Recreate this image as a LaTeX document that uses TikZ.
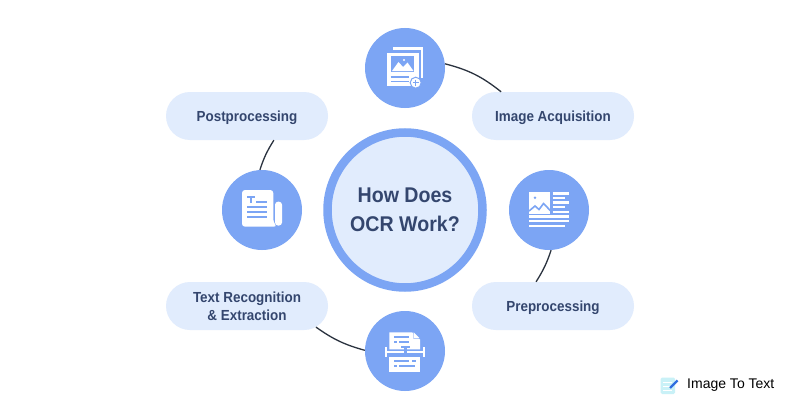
\documentclass[tikz,border=0pt]{standalone}
\usepackage{fontspec}
\setmainfont{Liberation Sans}[FakeStretch=0.92]
\newfontfamily\brandfont{Liberation Sans}
\usetikzlibrary{shapes.misc}

\definecolor{ringblue}{HTML}{7CA5F4}
\definecolor{paleblue}{HTML}{E1ECFD}
\definecolor{inkblue}{HTML}{34466E}
\definecolor{linkgray}{HTML}{2B3340}
\definecolor{logocyan}{HTML}{C9F1F7}
\definecolor{logoblue}{HTML}{2F6FE0}

\tikzset{
    iconcirc/.style={circle, fill=ringblue, minimum size=80, inner sep=0},
    stagepill/.style={rounded rectangle, fill=paleblue, text=inkblue, minimum width=162, minimum height=48,
        inner sep=0, align=center, text depth=0, font=\fontsize{14.6}{18}\selectfont\bfseries},
    link/.style={draw=linkgray, line width=1.3},
    bluemark/.style={draw=ringblue, line width=2.2},
    whitemark/.style={draw=white, line width=2.5}
}

\begin{document}
\begin{tikzpicture}[x=1pt, y=-1pt]
    \useasboundingbox[fill=white] (0, 0) rectangle (800, 420);

    \node[circle, draw=ringblue, line width=8.5, fill=paleblue, minimum size=155, inner sep=0, text=inkblue, align=center,
        font=\fontsize{21.3}{28.5}\selectfont\bfseries] (hub) at (405, 210) {How Does\\OCR Work?};

    \node[iconcirc] (iconacq) at (405, 68) {};
    \node[iconcirc] (iconpre) at (549, 210) {};
    \node[iconcirc] (iconpost) at (262, 210) {};
    \node[iconcirc] (iconrec) at (405, 351) {};

    \node[stagepill] (acq) at (553, 116) {Image Acquisition};
    \node[stagepill] (pre) at (553, 306) {Preprocessing};
    \node[stagepill] (post) at (247, 116) {Postprocessing};
    \node[stagepill] (rec) at (247, 306) {Text Recognition\\\& Extraction};

    \draw[link] (iconacq.6) to[bend left=12] (acq.155);
    \draw[link] (iconpre.-87) to[bend left=7] (pre.125);
    \draw[link] (iconpost.93) to[bend left=7] (post.-42.7);
    \draw[link] (iconrec.179) to[bend left=10] (rec.-17.5);

    % image acquisition icon
    \fill[white] (392.5, 47.5) rectangle (422.5, 78);
    \fill[ringblue] (390.5, 50) rectangle (420.5, 87);
    \fill[white] (387, 53) rectangle (418.5, 86);
    \fill[ringblue] (390.7, 56) rectangle (414.3, 72.3);
    \fill[white] (392, 71) -- (398.5, 62) -- (403, 67) -- (407.5, 62.5) -- (413.5, 71) -- cycle;
    \fill[white] (404, 60) circle (1.1);
    \draw[ringblue, line width=1.4] (390.7, 77) -- (409, 77) (390.7, 81.5) -- (409, 81.5);
    \fill[white, draw=ringblue, line width=1] (415.7, 82.7) circle (5.5);
    \draw[ringblue, line width=1.2] (412.7, 82.7) -- (418.7, 82.7) (415.7, 79.7) -- (415.7, 85.7);

    % preprocessing icon
    \fill[white] (529, 192) rectangle (550.3, 214);
    \fill[ringblue] (535, 197.7) circle (1.4);
    \draw[ringblue, line width=1.6] (529, 211) -- (535, 206) -- (539, 209.5) -- (543.5, 203.5) -- (550.3, 210.5);
    \draw[whitemark] (552.7, 193.3) -- (569, 193.3) (552.7, 197.9) -- (565, 197.9) (552.7, 202.4) -- (569, 202.4)
        (552.7, 207) -- (565, 207) (552.7, 212) -- (569, 212) (529, 216.7) -- (569, 216.7) (529, 221.2) -- (569, 221.2)
        (529, 226) -- (565, 226);

    % postprocessing icon
    \fill[white, rounded corners=3] (242, 190) -- (273.3, 190) -- (273.3, 222) -- (277, 226.7) -- (242, 226.7) -- cycle;
    \fill[white, rounded corners=3] (275, 201.7) rectangle (282, 225.5);
    \draw[bluemark] (247.3, 197) -- (255, 197) (251, 197) -- (251, 203);
    \draw[bluemark] (256, 202) -- (267.3, 202) (247.3, 206.7) -- (267.3, 206.7) (247.3, 212) -- (267.3, 212)
        (247.3, 217.3) -- (267.3, 217.3);

    % text recognition icon
    \fill[white] (389.3, 332.3) -- (412, 332.3) -- (420, 339.5) -- (420, 349.3) -- (389.3, 349.3) -- cycle;
    \fill[ringblue] (413.3, 332.3) -- (413.3, 338.5) -- (420, 338.5) -- cycle;
    \fill[white] (413.6, 332.3) -- (413.6, 338.2) -- (419.6, 338.2) -- cycle;
    \fill[white] (389.3, 356.7) rectangle (420, 371.7);
    \draw[whitemark] (386, 351.8) -- (424, 351.8) (386, 347.3) -- (386, 356.7) (424, 347.3) -- (424, 356.7);
    \draw[bluemark] (401, 347.3) -- (410, 347.3) (405.4, 347.3) -- (405.4, 354) (402.5, 353.8) -- (408.5, 353.8);
    \draw[bluemark] (394.3, 337.3) -- (409, 337.3) (394.3, 342.3) -- (396.5, 342.3) (399, 342.3) -- (409, 342.3)
        (394.3, 361.3) -- (409, 361.3) (412, 361.3) -- (415.7, 361.3) (394.3, 366) -- (396.5, 366) (399, 366) -- (415, 366);

    % logo
    \fill[logocyan, rounded corners=1.5] (660.5, 377.5) rectangle (675, 394);
    \draw[white, line width=0.8] (663, 382) -- (672, 382) (663, 386) -- (672, 386) (663, 390) -- (672, 390);
    \draw[logoblue, line width=2.2] (670, 388) -- (677.5, 380.5);
    \node[anchor=west, inner sep=0, text=black, font=\brandfont\fontsize{14}{16}\selectfont] (brand) at (687, 385.5) {Image To Text};
\end{tikzpicture}
\end{document}
